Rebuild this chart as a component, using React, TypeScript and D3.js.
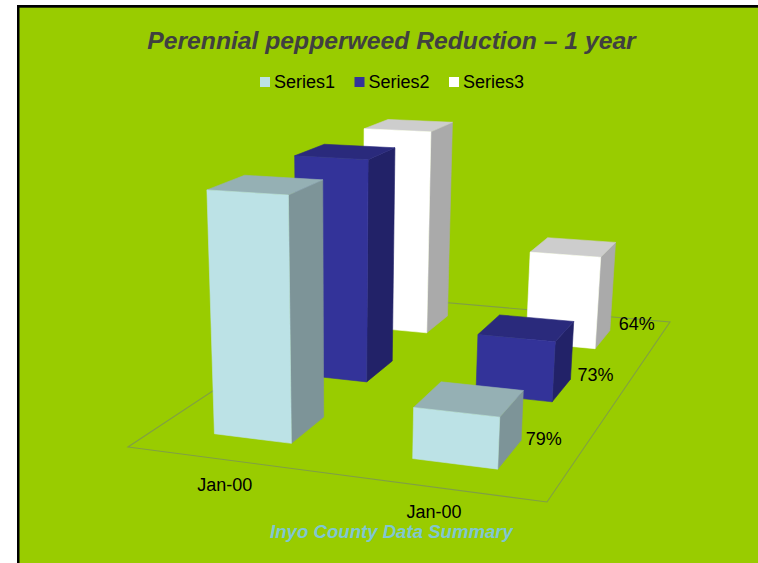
import React from "react";
import * as d3 from "d3";

// ---- data ----
const categories = ["Jan-00", "Jan-00"];
const seriesNames = ["Series1", "Series2", "Series3"];
const series1 = [100, 21];
const series2 = [100, 27];
const series3 = [100, 45];
const seriesValues = [series1, series2, series3];
const series1Labels = [null, "79%"];
const series2Labels = [null, "73%"];
const series3Labels = [null, "64%"];
const seriesLabels = [series1Labels, series2Labels, series3Labels];
const title = "Perennial pepperweed Reduction \u2013 1 year";
const footer = "Inyo County Data Summary";

// ---- style ----
const W = 758;
const H = 563;
const GREEN = "#99CC00";
const FONT = "'Liberation Sans', Arial, Helvetica, sans-serif";
const faceColors = [
  { front: "#BCE2E6", side: "#7D9498", top: "#95B0B4" },
  { front: "#333399", side: "#222268", top: "#2A2A7C" },
  { front: "#FFFFFF", side: "#AAAAAA", top: "#CDCDCD" },
];
const legendColors = ["#BCE2E6", "#333399", "#FFFFFF"];

// floor quad in screen space (front-left, front-right, back-right, back-left)
const floorCorners: [number, number][] = [
  [128, 447],
  [547, 502],
  [670, 322],
  [358, 295],
];
const vanish: [number, number] = [340, 4500]; // vertical vanishing point

function squareToQuad(q: [number, number][]) {
  const [[x0, y0], [x1, y1], [x2, y2], [x3, y3]] = q;
  const dx1 = x1 - x2, dy1 = y1 - y2;
  const dx2 = x3 - x2, dy2 = y3 - y2;
  const dx3 = x0 - x1 + x2 - x3, dy3 = y0 - y1 + y2 - y3;
  const den = dx1 * dy2 - dx2 * dy1;
  const g = (dx3 * dy2 - dx2 * dy3) / den;
  const h = (dx1 * dy3 - dx3 * dy1) / den;
  return {
    a: x1 - x0 + g * x1, b: x3 - x0 + h * x3, c: x0,
    d: y1 - y0 + g * y1, e: y3 - y0 + h * y3, f: y0,
    g, h,
  };
}
const Hm = squareToQuad(floorCorners);

function project(u: number, v: number, t: number): [number, number] {
  const X = Hm.a * u + Hm.b * v + Hm.c + t * vanish[0];
  const Y = Hm.d * u + Hm.e * v + Hm.f + t * vanish[1];
  const Wt = Hm.g * u + Hm.h * v + 1 + t;
  return [X / Wt, Y / Wt];
}

const xBand = d3
  .scaleBand<number>()
  .domain(d3.range(categories.length))
  .range([0, 1])
  .paddingInner(0.6)
  .paddingOuter(0.3);
const zBand = d3
  .scaleBand<string>()
  .domain(seriesNames)
  .range([0, 1])
  .paddingInner(0.6)
  .paddingOuter(0.3);
const hScale = d3.scaleLinear().domain([0, 100]).range([0, -0.0579]);
const legendX = d3.scalePoint<string>().domain(seriesNames).range([260, 449]);

const closedLine = d3.line<[number, number]>().curve(d3.curveLinearClosed);

export default function App() {
  const floorPath = closedLine([
    project(0, 0, 0),
    project(1, 0, 0),
    project(1, 1, 0),
    project(0, 1, 0),
  ]);

  const boxes: React.ReactNode[] = [];
  const labels: React.ReactNode[] = [];
  // back to front
  for (let s = seriesNames.length - 1; s >= 0; s--) {
    const v0 = zBand(seriesNames[s])!;
    const v1 = v0 + zBand.bandwidth();
    categories.forEach((_, ci) => {
      const u0 = xBand(ci)!;
      const u1 = u0 + xBand.bandwidth();
      const t = hScale(seriesValues[s][ci]);
      const col = faceColors[s];
      const front = closedLine([
        project(u0, v0, 0), project(u1, v0, 0), project(u1, v0, t), project(u0, v0, t),
      ]);
      const side = closedLine([
        project(u1, v0, 0), project(u1, v1, 0), project(u1, v1, t), project(u1, v0, t),
      ]);
      const top = closedLine([
        project(u0, v0, t), project(u1, v0, t), project(u1, v1, t), project(u0, v1, t),
      ]);
      boxes.push(
        <g key={`b${s}-${ci}`} strokeWidth={0.6} strokeLinejoin="round">
          <path d={side!} fill={col.side} stroke={col.side} />
          <path d={top!} fill={col.top} stroke={col.top} />
          <path d={front!} fill={col.front} stroke={col.front} />
        </g>
      );
      const lab = seriesLabels[s][ci];
      if (lab) {
        const [lx, ly] = project(u1, (v0 + v1) / 2, 0);
        labels.push(
          <text key={`l${s}-${ci}`} x={lx + 16} y={ly - 9} fontSize={18} fill="#000">
            {lab}
          </text>
        );
      }
    });
  }

  const catLabels = categories.map((c, ci) => {
    const [cx, cy] = project(xBand(ci)! + xBand.bandwidth() / 2, 0, 0);
    return (
      <text key={`c${ci}`} x={cx} y={cy + 31} fontSize={18} textAnchor="middle" fill="#000">
        {c}
      </text>
    );
  });

  return (
    <svg
      width={W}
      height={H}
      style={{ position: "absolute", left: 0, top: 0, display: "block" }}
      fontFamily={FONT}
    >
      <rect x={0} y={0} width={W} height={H} fill="#FFFFFF" />
      <rect x={17} y={5} width={W} height={H} fill="#000000" />
      <rect x={19.5} y={7.7} width={W} height={H} fill={GREEN} />

      <text
        x={391.5}
        y={49}
        fontSize={24.7}
        fontWeight="bold"
        fontStyle="italic"
        textAnchor="middle"
        fill="#404040"
      >
        {title}
      </text>

      {seriesNames.map((s, i) => (
        <g key={s}>
          <rect x={legendX(s)!} y={77} width={10} height={10} fill={legendColors[i]} />
          <text x={legendX(s)! + 14} y={88} fontSize={18} fill="#000">
            {s}
          </text>
        </g>
      ))}

      <path d={floorPath!} fill="none" stroke="#809F45" strokeWidth={1.1} />
      {boxes}
      {labels}
      {catLabels}

      <text
        x={391.5}
        y={538}
        fontSize={18.6}
        fontWeight="bold"
        fontStyle="italic"
        textAnchor="middle"
        fill="#80C6D2"
      >
        {footer}
      </text>
    </svg>
  );
}
